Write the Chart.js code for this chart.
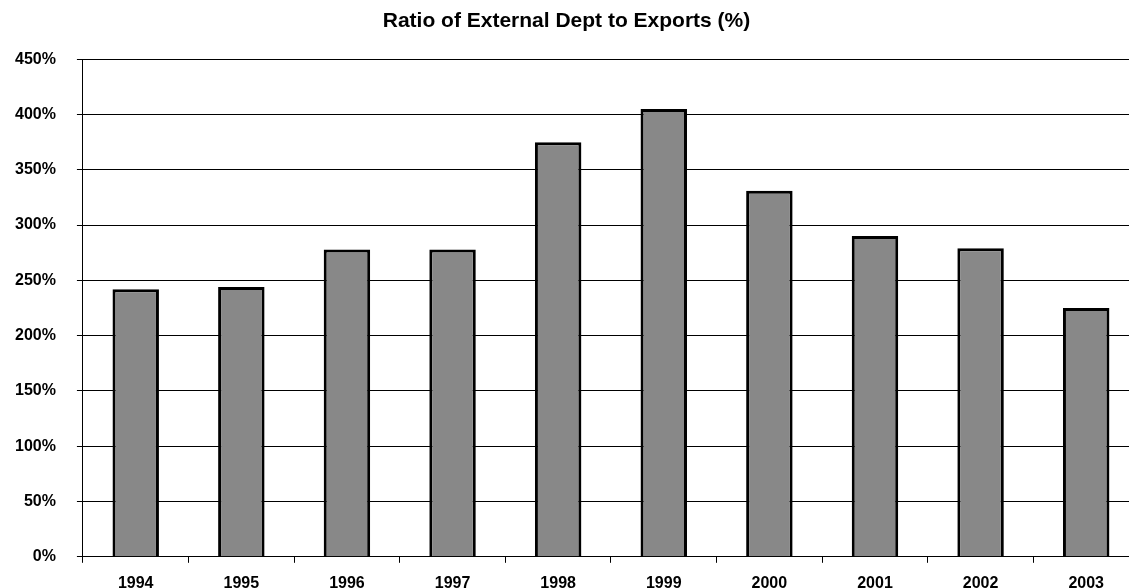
<!DOCTYPE html>
<html>
<head>
<meta charset="utf-8">
<script src="https://cdn.jsdelivr.net/npm/chart.js@4.4.0/dist/chart.umd.min.js"></script>
<style>
  html, body { margin: 0; padding: 0; background: #fff; overflow: hidden; }
  #wrap { width: 1129px; height: 588px; overflow: hidden; }
</style>
</head>
<body>
<!-- the original picture is cropped on the right, so the canvas is wider than the window -->
<div id="wrap"><canvas id="chart" width="1145" height="588"></canvas></div>
<script>
var years = ["1994", "1995", "1996", "1997", "1998", "1999", "2000", "2001", "2002", "2003"];
var debtRatio = [242, 244, 278, 278, 375, 405, 331, 290, 279, 225];
var yTicks = [0, 50, 100, 150, 200, 250, 300, 350, 400, 450];

var font = "'Liberation Sans', Arial, sans-serif";

var ctx = document.getElementById("chart").getContext("2d");
var chart = new Chart(ctx, {
  type: "bar",
  data: {
    labels: years,
    datasets: [{
      label: "Ratio",
      data: debtRatio,
      backgroundColor: "#888888",
      borderColor: "#000",
      borderWidth: 3,
      borderSkipped: "bottom",
      barPercentage: 0.44,
      categoryPercentage: 1
    }]
  },
  options: {
    responsive: false,
    animation: false,
    layout: { padding: { left: -6, right: 6, top: 0, bottom: -16 } },
    plugins: {
      legend: { display: false },
      tooltip: { enabled: false },
      title: {
        display: true,
        text: "Ratio of External Dept to Exports (%)",
        color: "#000",
        font: { family: font, size: 21, weight: "bold" },
        padding: { top: 9, bottom: 25 }
      }
    },
    scales: {
      x: {
        grid: {
          display: true,
          drawOnChartArea: false,
          drawTicks: true,
          tickLength: 6,
          color: "#000",
          offset: true
        },
        border: { display: true, color: "#000", width: 1 },
        ticks: {
          color: "#000",
          font: { family: font, size: 16, weight: "bold" },
          padding: 11,
          maxRotation: 0
        }
      },
      y: {
        min: 0,
        max: 450,
        afterBuildTicks: function (axis) {
          axis.ticks = yTicks.map(function (v) { return { value: v }; });
        },
        grid: {
          color: "#000",
          lineWidth: 1,
          drawTicks: true,
          tickLength: 6
        },
        border: { display: true, color: "#000", width: 1 },
        ticks: {
          color: "#000",
          font: { family: font, size: 16, weight: "bold" },
          padding: 21,
          callback: function (v) { return v + "%"; }
        }
      }
    }
  }
});
</script>
</body>
</html>
